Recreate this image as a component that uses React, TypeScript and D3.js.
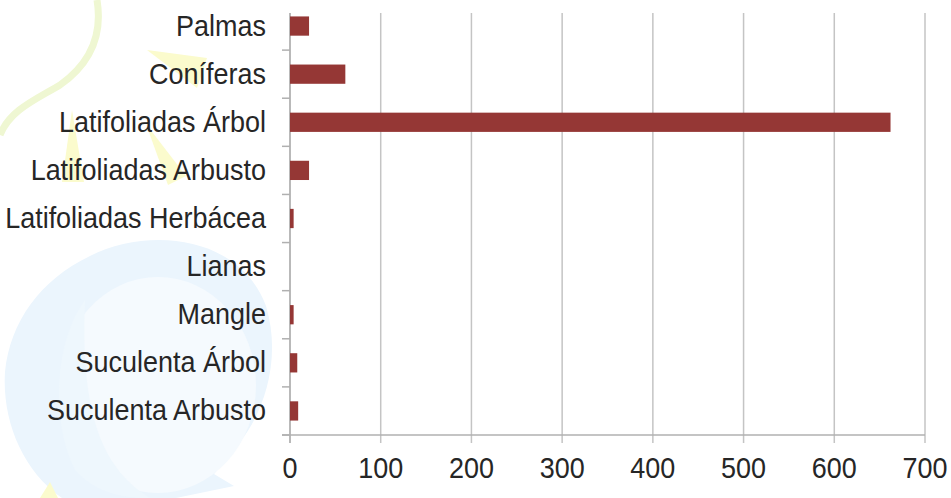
import React from "react";
import * as d3 from "d3";

const categories = [
  "Palmas",
  "Coníferas",
  "Latifoliadas Árbol",
  "Latifoliadas Arbusto",
  "Latifoliadas Herbácea",
  "Lianas",
  "Mangle",
  "Suculenta Árbol",
  "Suculenta Arbusto",
];
const values = [21, 61, 662, 21, 4, 0, 4, 8, 9];
const xTicks = [0, 100, 200, 300, 400, 500, 600, 700];

const W = 951;
const H = 498;
const FONT = "'Liberation Sans', Arial, sans-serif";

export default function App() {
  const x = d3.scaleLinear().domain([0, 700]).range([290, 925]);
  const y = d3
    .scaleBand<string>()
    .domain(categories)
    .range([2, 435])
    .paddingInner(0.6)
    .paddingOuter(0.3);
  const step = y.step();
  const boundaries = d3.range(1, categories.length + 1).map((i) => 2 + i * step);

  const textStyle = { fontFamily: FONT, fontSize: 29, fill: "#262626" } as const;

  return (
    <svg
      width={W}
      height={H}
      style={{ position: "absolute", left: 0, top: 0, background: "#fff" }}
    >
      {/* faint watermark */}
      <g>
        <path
          d="M90,256 C150,226 240,236 266,306 C284,366 258,420 240,442 L214,474 L234,486 L176,498 L62,498 C22,470 2,420 5,372 C10,322 40,280 90,256 Z"
          fill="#ebf5fd"
        />
        <ellipse cx={158} cy={385} rx={98} ry={108} fill="#f5fafe" />
        <path
          d="M85,300 C55,340 50,420 75,470 C95,492 120,498 150,498 C105,470 80,420 85,300 Z"
          fill="#eef7fd"
        />
        <path
          d="M97,0 C102,30 95,60 60,85 C35,100 10,110 0,135"
          fill="none"
          stroke="#eff7d2"
          strokeWidth={7}
        />
        <path d="M147,50 L207,58 L197,88 Z" fill="#fbfbcd" />
        <path d="M72,110 L62,182 L84,182 Z" fill="#fbfbcd" />
        <path d="M146,124 L168,185 L186,176 Z" fill="#fbfbcd" />
        <path d="M40,498 L50,482 L58,498 Z" fill="#fbfbcd" />
      </g>

      {/* gridlines */}
      {xTicks.map((t) => (
        <line
          key={"g" + t}
          x1={x(t)}
          x2={x(t)}
          y1={13}
          y2={443}
          stroke="#c4c4c4"
          strokeWidth={1.5}
        />
      ))}

      {/* y axis */}
      <line x1={x(0)} x2={x(0)} y1={13} y2={443} stroke="#b0b0b0" strokeWidth={1.5} />
      {boundaries.map((b, i) => (
        <line key={"yt" + i} x1={282} x2={290} y1={b} y2={b} stroke="#b0b0b0" strokeWidth={1.5} />
      ))}
      {/* x axis */}
      <line x1={282} x2={x(700)} y1={435} y2={435} stroke="#b0b0b0" strokeWidth={1.5} />

      {/* bars */}
      {categories.map((c, i) => (
        <rect
          key={c}
          x={x(0)}
          y={y(c)!}
          width={Math.max(0, x(values[i]) - x(0))}
          height={y.bandwidth()}
          fill="#953735"
        />
      ))}

      {/* category labels */}
      {categories.map((c) => (
        <text
          key={"l" + c}
          transform={`translate(266,${y(c)! + y.bandwidth() / 2 + 9.5}) scale(0.93,1)`}
          textAnchor="end"
          style={textStyle}
        >
          {c}
        </text>
      ))}

      {/* x tick labels */}
      {xTicks.map((t) => (
        <text
          key={"xl" + t}
          transform={`translate(${x(t)},478) scale(0.93,1)`}
          textAnchor="middle"
          style={textStyle}
        >
          {t}
        </text>
      ))}
    </svg>
  );
}
